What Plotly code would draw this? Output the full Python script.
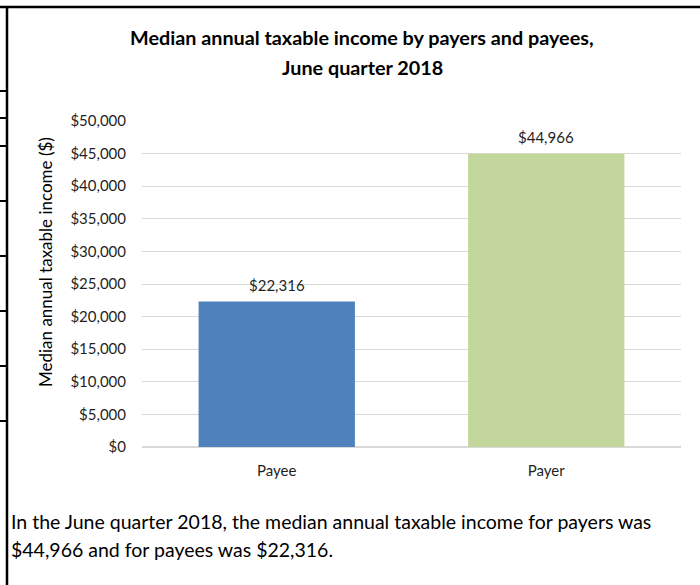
import plotly.graph_objects as go

categories = ["Payee", "Payer"]
values = [22316, 44966]
bar_colors = ["#4f81bd", "#c3d69b"]
title_lines = ["Median annual taxable income by payers and payees,", "June quarter 2018"]
y_title = "Median annual taxable income ($)"
note_lines = [
    "In the June quarter 2018, the median annual taxable income for payers was",
    "$44,966 and for payees was $22,316.",
]
y_ticks = [0, 5000, 10000, 15000, 20000, 25000, 30000, 35000, 40000, 45000, 50000]
y_ticktext = ["$" + format(v, ",") for v in y_ticks]

W, H = 700, 585
L, R, T, B = 142, 19, 121, 138
PW, PH = W - L - R, H - T - B
FONT = "Lato, 'Open Sans', sans-serif"
TXT = "#1f1f1f"


def px(x):
    return (x - L) / PW


def py(y):
    return (H - B - y) / PH


fig = go.Figure(
    go.Bar(
        x=categories,
        y=values,
        marker=dict(color=bar_colors, line=dict(width=0)),
        hoverinfo="skip",
    )
)

fig.update_layout(
    width=W,
    height=H,
    margin=dict(l=L, r=R, t=T, b=B, pad=0),
    paper_bgcolor="white",
    plot_bgcolor="white",
    bargap=0.42,
    showlegend=False,
    font=dict(family=FONT, color=TXT),
)

fig.update_yaxes(
    range=[0, 50000],
    tickvals=y_ticks,
    ticktext=y_ticktext,
    showgrid=True,
    gridcolor="#d9d9d9",
    gridwidth=1,
    zeroline=True,
    zerolinecolor="#d9d9d9",
    showline=False,
    ticks="",
    ticklabelstandoff=15,
    tickfont=dict(size=15, color=TXT, family=FONT),
)
fig.update_xaxes(
    showgrid=False,
    showline=False,
    ticks="",
    ticklabelstandoff=13,
    tickfont=dict(size=15, color=TXT, family=FONT),
)

ann = []
# data labels anchored to the bar values
for c, v in zip(categories, values):
    ann.append(dict(text="$" + format(v, ","), x=c, y=v, xref="x", yref="y",
                    xanchor="center", yanchor="middle", yshift=17, showarrow=False,
                    font=dict(size=15, color=TXT, family=FONT)))
for i, line in enumerate(title_lines):
    ann.append(dict(text="<b>" + line + "</b>", x=px(362), y=py(37 + 30 * i), xref="paper", yref="paper",
                    xanchor="center", yanchor="middle", showarrow=False,
                    font=dict(size=19.8, color="#000000", family=FONT)))
ann.append(dict(text=y_title, x=px(45), y=py(262), xref="paper", yref="paper", textangle=-90,
                xanchor="center", yanchor="middle", showarrow=False,
                font=dict(size=17, color="#000000", family=FONT)))
for i, line in enumerate(note_lines):
    ann.append(dict(text=line, x=px(9), y=py(521 + 28 * i), xref="paper", yref="paper",
                    xanchor="left", yanchor="middle", showarrow=False, align="left",
                    font=dict(size=19.5, color="#000000", family=FONT)))
fig.update_layout(annotations=ann)

shapes = []
# frame lines (top and left) and left row markers
shapes.append(dict(type="line", xref="paper", yref="paper", x0=px(0), x1=px(700), y0=py(7), y1=py(7),
                   line=dict(color="black", width=2.5)))
shapes.append(dict(type="line", xref="paper", yref="paper", x0=px(7), x1=px(7), y0=py(6), y1=py(585),
                   line=dict(color="black", width=2.5)))
for yy in [91, 118, 146, 201, 256, 311, 366, 421]:
    shapes.append(dict(type="line", xref="paper", yref="paper", x0=px(0), x1=px(7), y0=py(yy), y1=py(yy),
                       line=dict(color="black", width=2)))
fig.update_layout(shapes=shapes)

fig.write_html("out.html", config={"displayModeBar": False},
               post_script="document.body.style.margin='0';")
